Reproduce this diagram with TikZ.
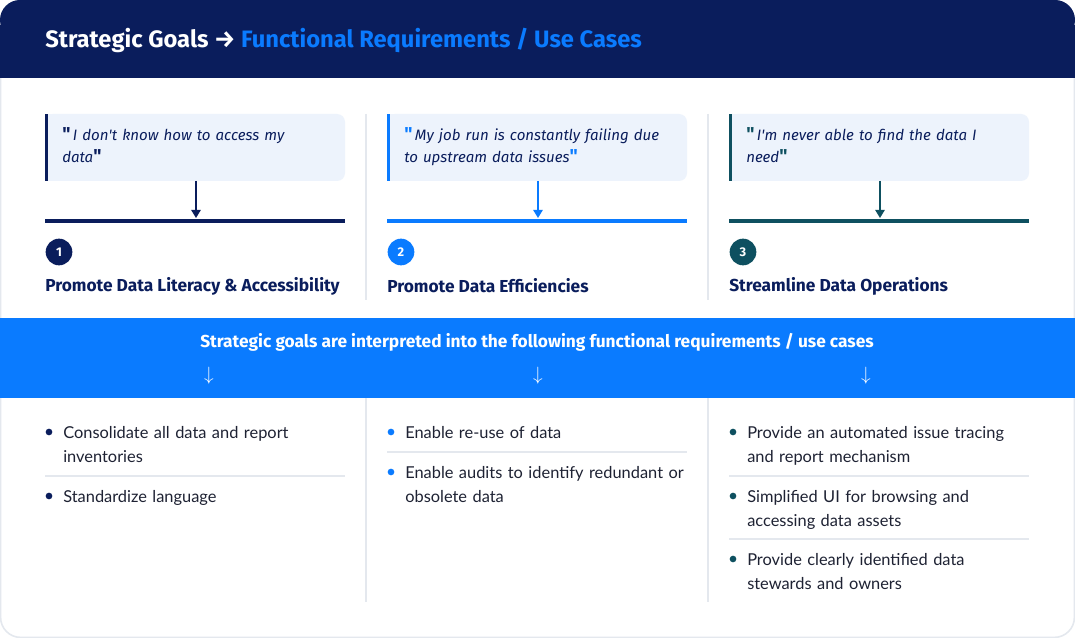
\documentclass[tikz,border=0pt]{standalone}
\usepackage{fontspec}
\setmainfont{Lato}
\newfontfamily\headfont{Fira Sans}
\usetikzlibrary{positioning,arrows.meta}
\definecolor{navy}{HTML}{0A1D5C}
\definecolor{bright}{HTML}{0A7BFF}
\definecolor{teal}{HTML}{0E5060}
\definecolor{quotebg}{HTML}{EDF3FC}
\definecolor{sepgray}{HTML}{E4E8EE}
\definecolor{bodytext}{HTML}{1E2233}
\newcommand{\qm}[1]{{\color{#1}\upshape\bfseries\fontsize{14}{14}\selectfont\textquotedbl}}
\newcommand{\nohyph}{\hyphenpenalty=10000\exhyphenpenalty=10000}
\tikzset{
  quote/.style={anchor=north west, text width=200pt, align=left, font=\nohyph\headfont\itshape\fontsize{11.3}{16.5}\selectfont, text=navy, inner sep=0},
  goal/.style={anchor=west, font=\headfont\fontseries{sb}\selectfont\fontsize{13}{15}\selectfont, text=navy, inner sep=0},
  badge/.style={circle, fill=#1, minimum size=20pt, inner sep=0, text=white, font=\headfont\bfseries\fontsize{9.5}{12}\selectfont},
  item/.style={anchor=north west, text width=212pt, align=left, font=\nohyph\fontsize{12.3}{17.8}\selectfont, text=bodytext, inner sep=0},
  dot/.style={circle, fill=#1, minimum size=5pt, inner sep=0},
  sep/.style={draw=sepgray, line width=0.8pt},
}
\begin{document}
\begin{tikzpicture}[x=0.75pt,y=-0.75pt]
  \useasboundingbox (0,0) rectangle (1075,638);
  % card and header
  \draw[fill=white, draw=sepgray, line width=1.2, rounded corners=15] (0.6,0.6) rectangle (1074.4,637.4);
  \fill[navy, rounded corners=15] (0,0) rectangle (1075,40);
  \fill[navy] (0,25) rectangle (1075,78);
  \node[anchor=west, inner sep=0, font=\headfont\fontseries{sb}\selectfont\fontsize{17.8}{20}\selectfont, text=white] (title) at (45,40)
    {Strategic Goals \textrightarrow\ \textcolor{bright}{Functional Requirements / Use Cases}};
  % column separators
  \draw[sep] (366,114) -- (366,300);
  \draw[sep] (708,114) -- (708,300);
  \draw[sep] (366,398) -- (366,602);
  \draw[sep] (708,398) -- (708,602);
  % goal columns
  \foreach \x/\col/\num/\txt/\goaltxt in {
      45/navy/1/{I don't know how to access my\newline data}/{Promote Data Literacy \& Accessibility},
      387/bright/2/{My job run is constantly failing due to upstream data issues}/{Promote Data Efficiencies},
      729/teal/3/{I'm never able to find the data I need}/{Streamline Data Operations}} {
    \fill[quotebg, rounded corners=6] (\x,114) rectangle (\x+300,181);
    \fill[quotebg] (\x,114) rectangle (\x+10,181);
    \fill[\col] (\x,114) rectangle (\x+3,181);
    \node[quote] (q\num) at (\x+17,127) {\qm{\col}\,\txt\qm{\col}};
    \coordinate (top\num) at (\x+151,181);
    \coordinate (bar\num) at (\x+151,218);
    \draw[\col, line width=1.1pt, -{Triangle[width=7pt,length=6pt]}] (top\num) -- (bar\num);
    \draw[\col, line width=2.3pt] (\x,221) -- (\x+300,221);
    \node[badge=\col] (n\num) at (\x+14,252) {\num};
    \node[goal] (g\num) at (\x,286) {\goaltxt};
  }
  % blue band
  \fill[bright] (0,318) rectangle (1075,398);
  \node[inner sep=0, font=\headfont\fontseries{sb}\selectfont\fontsize{13}{15}\selectfont, text=white] (band) at (537,342)
    {Strategic goals are interpreted into the following functional requirements / use cases};
  \foreach \x in {209,538,866} {
    \node[inner sep=0, text=white, font=\fontsize{14}{14}\selectfont] at (\x,376) {$\downarrow$};
  }
  % requirement lists
  \node[dot=navy] (d11) at (49,432) {};
  \node[item] (r11) at (63,426) {Consolidate all data and report inventories};
  \draw[sep] (45,476) -- (345,476);
  \node[dot=navy] (d12) at (49,496) {};
  \node[item] (r12) at (63,490) {Standardize language};

  \node[dot=bright] (d21) at (391,432) {};
  \node[item] (r21) at (405,426) {Enable re-use of data};
  \draw[sep] (387,452) -- (687,452);
  \node[dot=bright] (d22) at (391,472) {};
  \node[item] (r22) at (405,466) {Enable audits to identify redundant or obsolete data};

  \node[dot=teal] (d31) at (733,432) {};
  \node[item] (r31) at (747,426) {Provide an automated issue tracing and report mechanism};
  \draw[sep] (729,476) -- (1029,476);
  \node[dot=teal] (d32) at (733,496) {};
  \node[item] (r32) at (747,490) {Simplified UI for browsing and accessing data assets};
  \draw[sep] (729,539) -- (1029,539);
  \node[dot=teal] (d33) at (733,559) {};
  \node[item] (r33) at (747,553) {Provide clearly identified data stewards and owners};
\end{tikzpicture}
\end{document}
